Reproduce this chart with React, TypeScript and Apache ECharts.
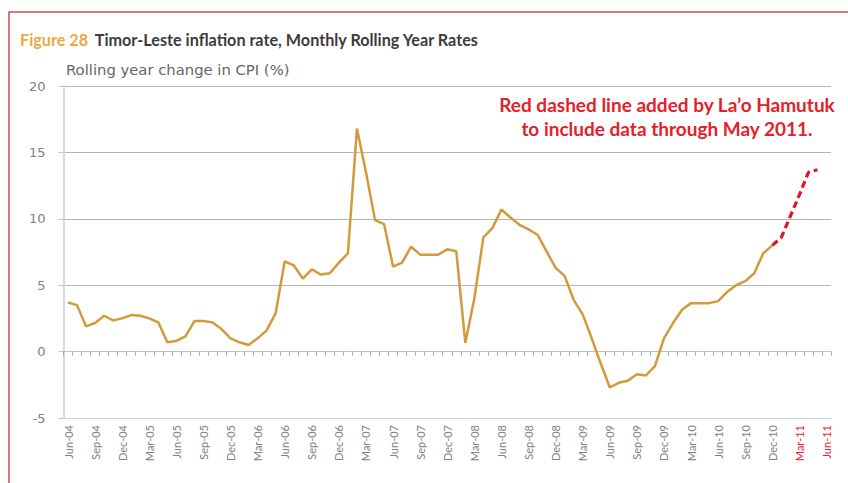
import React, { useEffect, useRef } from 'react';
import * as echarts from 'echarts';

const CATEGORIES = [
  'Jun-04', 'Jul-04', 'Aug-04', 'Sep-04', 'Oct-04', 'Nov-04', 'Dec-04',
  'Jan-05', 'Feb-05', 'Mar-05', 'Apr-05', 'May-05', 'Jun-05', 'Jul-05', 'Aug-05', 'Sep-05', 'Oct-05', 'Nov-05', 'Dec-05',
  'Jan-06', 'Feb-06', 'Mar-06', 'Apr-06', 'May-06', 'Jun-06', 'Jul-06', 'Aug-06', 'Sep-06', 'Oct-06', 'Nov-06', 'Dec-06',
  'Jan-07', 'Feb-07', 'Mar-07', 'Apr-07', 'May-07', 'Jun-07', 'Jul-07', 'Aug-07', 'Sep-07', 'Oct-07', 'Nov-07', 'Dec-07',
  'Jan-08', 'Feb-08', 'Mar-08', 'Apr-08', 'May-08', 'Jun-08', 'Jul-08', 'Aug-08', 'Sep-08', 'Oct-08', 'Nov-08', 'Dec-08',
  'Jan-09', 'Feb-09', 'Mar-09', 'Apr-09', 'May-09', 'Jun-09', 'Jul-09', 'Aug-09', 'Sep-09', 'Oct-09', 'Nov-09', 'Dec-09',
  'Jan-10', 'Feb-10', 'Mar-10', 'Apr-10', 'May-10', 'Jun-10', 'Jul-10', 'Aug-10', 'Sep-10', 'Oct-10', 'Nov-10', 'Dec-10',
  'Jan-11', 'Feb-11', 'Mar-11', 'Apr-11', 'May-11', 'Jun-11',
];

// Jun-04 .. Dec-10 (original figure, orange)
const CPI_ORIGINAL = [
  3.7, 3.5, 1.9, 2.15, 2.7, 2.35, 2.5,
  2.75, 2.7, 2.5, 2.2, 0.7, 0.8, 1.15, 2.3, 2.3, 2.2, 1.7, 1.0,
  0.7, 0.5, 1.0, 1.6, 2.9, 6.8, 6.5, 5.5, 6.2, 5.8, 5.9, 6.7,
  7.4, 16.8, 13.5, 9.9, 9.6, 6.4, 6.7, 7.9, 7.3, 7.3, 7.3, 7.7,
  7.55, 0.65, 4.0, 8.6, 9.3, 10.7, 10.1, 9.55, 9.2, 8.8, 7.55, 6.3,
  5.7, 3.9, 2.8, 1.0, -0.9, -2.7, -2.35, -2.2, -1.7, -1.8, -1.1, 1.0,
  2.15, 3.15, 3.65, 3.65, 3.65, 3.8, 4.5, 5.0, 5.3, 5.9, 7.4, 8.0,
];

// Dec-10 .. May-11 (La'o Hamutuk extension, red dashed)
const CPI_EXTENSION = [8.0, 8.6, 10.2, 11.8, 13.5, 13.7];

const Y_MIN = -5;
const Y_MAX = 20;
const Y_STEP = 5;

export default function App() {
  const ref = useRef<HTMLDivElement>(null);

  useEffect(() => {
    if (!ref.current) return;
    const chart = echarts.init(ref.current, null, { renderer: 'svg' });
    const extStart = CPI_ORIGINAL.length - 1;
    const orange = CATEGORIES.map((_, i) => (i < CPI_ORIGINAL.length ? CPI_ORIGINAL[i] : null));
    const red = CATEGORIES.map((_, i) =>
      i >= extStart && i - extStart < CPI_EXTENSION.length ? CPI_EXTENSION[i - extStart] : null
    );

    chart.setOption({
      animation: false,
      backgroundColor: '#ffffff',
      grid: { left: 63.5, right: 17, top: 86, bottom: 65 },
      xAxis: [
        {
          type: 'category',
          data: CATEGORIES,
          boundaryGap: true,
          position: 'bottom',
          axisLine: { onZero: true, lineStyle: { color: '#c4c4c4', width: 1 } },
          axisTick: { show: true, interval: 0, length: 4, lineStyle: { color: '#9aa4b4' } },
          axisLabel: { show: false },
          splitLine: { show: false },
        },
        {
          type: 'category',
          data: CATEGORIES,
          boundaryGap: true,
          position: 'bottom',
          axisLine: { show: false, onZero: false },
          axisTick: { show: false },
          axisLabel: {
            interval: 2,
            rotate: 90,
            margin: 7,
            fontSize: 11,
            fontFamily: 'Lato',
            color: (v: string) => (v.endsWith('-11') ? '#e8232b' : '#808080'),
          },
          splitLine: { show: false },
        },
      ],
      yAxis: {
        type: 'value',
        min: Y_MIN,
        max: Y_MAX,
        interval: Y_STEP,
        axisLine: { show: true, lineStyle: { color: '#d9d9d9', width: 2 } },
        axisTick: { show: true, length: 5, lineStyle: { color: '#c4c4c4' } },
        axisLabel: { margin: 18, fontSize: 13, color: '#808080', fontFamily: 'DejaVu Sans' },
        splitLine: {
          show: true,
          lineStyle: { color: ['#d4d4d4', '#d4d4d4', '#b5b5b5', '#b5b5b5', '#b5b5b5', '#b5b5b5'], width: 1 },
        },
      },
      series: [
        {
          type: 'line',
          data: orange,
          symbol: 'none',
          z: 3,
          lineStyle: { color: '#d39a3b', width: 2.5 },
        },
        {
          type: 'line',
          data: red,
          symbol: 'none',
          z: 4,
          lineStyle: { color: '#e0142a', width: 3.2, type: [7, 4] },
        },
      ],
      graphic: [
        {
          type: 'rect',
          silent: true,
          shape: { x: 9, y: 12, width: 900, height: 500 },
          style: { fill: 'none', stroke: '#c8524f', lineWidth: 1.5 },
        },
        {
          type: 'text',
          x: 20,
          y: 39,
          style: {
            text: '{a|Figure 28}  {b|Timor-Leste inflation rate, Monthly Rolling Year Rates}',
            verticalAlign: 'middle',
            rich: {
              a: { fill: '#eda843', fontSize: 16.2, fontFamily: 'Lato', fontWeight: 'bold' },
              b: { fill: '#3c3c3c', fontSize: 16.2, fontFamily: 'Lato', fontWeight: 'bold' },
            },
          },
        },
        {
          type: 'text',
          x: 66,
          y: 69,
          style: {
            text: 'Rolling year change in CPI (%)',
            fill: '#666666',
            fontSize: 14.8,
            fontFamily: 'DejaVu Sans',
            verticalAlign: 'middle',
          },
        },
        {
          type: 'text',
          x: 667,
          y: 104,
          style: {
            text: 'Red dashed line added by La\u2019o Hamutuk',
            fill: '#e4212b',
            fontSize: 19,
            fontWeight: 'bold',
            fontFamily: 'Lato',
            align: 'center',
            verticalAlign: 'middle',
          },
        },
        {
          type: 'text',
          x: 667,
          y: 128,
          style: {
            text: 'to include data through May 2011.',
            fill: '#e4212b',
            fontSize: 19,
            fontWeight: 'bold',
            fontFamily: 'Lato',
            align: 'center',
            verticalAlign: 'middle',
          },
        },
      ],
    });

    return () => chart.dispose();
  }, []);

  return (
    <div
      ref={ref}
      style={{ position: 'fixed', left: 0, top: 0, width: 848, height: 483, background: '#ffffff' }}
    />
  );
}
